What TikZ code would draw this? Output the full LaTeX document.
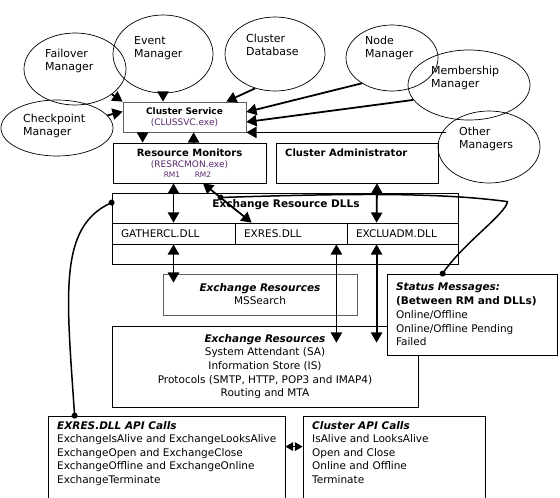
\documentclass[tikz,border=0pt]{standalone}
\usepackage{fontspec}
\setmainfont{DejaVu Sans}
\usetikzlibrary{arrows, calc, positioning, shapes.geometric}
\definecolor{exepurple}{RGB}{90,40,110}
\definecolor{boxgray}{RGB}{95,95,95}

\begin{document}
\begin{tikzpicture}[x=1pt, y=-1pt,
	box/.style={draw, line width=0.8pt, inner sep=0pt},
	cell/.style={box, minimum height=21pt, inner xsep=9pt, align=left},
	mgr/.style={draw, ellipse, line width=0.7pt, inner sep=0pt},
	mgrtext/.style={anchor=north west, align=left, inner sep=0pt, font=\fontsize{11}{13}\selectfont},
	txt/.style={inner sep=0pt, font=\fontsize{10.5}{13.5}\selectfont},
	link/.style={line width=1.8pt, -triangle 60},
	dlink/.style={line width=1.8pt, triangle 60-triangle 60},
	wire/.style={line width=1.5pt}]
	\clip (0,0) rectangle (560,498);

	% managers
	\node [mgr, minimum width=102pt, minimum height=72pt] (fm) at (75,69) {};
	\node [mgr, minimum width=100pt, minimum height=78pt] (em) at (163,54) {};
	\node [mgr, minimum width=100pt, minimum height=74pt] (cdb) at (275,54) {};
	\node [mgr, minimum width=92pt, minimum height=66pt] (nm) at (392,58) {};
	\node [mgr, minimum width=122pt, minimum height=70pt] (mm) at (469,85) {};
	\node [mgr, minimum width=102pt, minimum height=72pt] (om) at (489,147) {};
	\node [mgr, minimum width=112pt, minimum height=56pt] (cp) at (57,128) {};
	\node [mgrtext] (fmt) at (45,49) {Failover\\Manager};
	\node [mgrtext] (emt) at (134,36) {Event\\Manager};
	\node [mgrtext] (cdbt) at (246,34) {Cluster\\Database};
	\node [mgrtext] (nmt) at (365,36) {Node\\Manager};
	\node [mgrtext] (mmt) at (431,66) {Membership\\Manager};
	\node [mgrtext] (omt) at (459,127) {Other\\Managers};
	\node [mgrtext] (cpt) at (23,114) {Checkpoint\\Manager};

	% cluster side
	\node [box, draw=boxgray, minimum width=123pt, minimum height=30pt, align=center,
		font=\fontsize{9}{11}\selectfont] (cs) at (184.5,117)
		{\textbf{Cluster Service}\\\textcolor{exepurple}{(CLUSSVC.exe)}};
	\node [box, minimum width=153pt, minimum height=40pt] (rm) at (189.5,163) {};
	\node [txt, font=\bfseries\fontsize{10}{12}\selectfont] (rmt) at (189.5,153) {Resource Monitors};
	\node [txt, text=exepurple, font=\fontsize{9}{11}\selectfont] (rmx) at (189.5,165) {(RESRCMON.exe)};
	\node [txt, text=exepurple, font=\fontsize{7.5}{9}\selectfont] (rm1) at (172,175) {RM1};
	\node [txt, text=exepurple, font=\fontsize{7.5}{9}\selectfont] (rm2) at (203,175) {RM2};
	\node [box, minimum width=162pt, minimum height=40pt] (ca) at (357,163) {};
	\node [txt, anchor=west, font=\bfseries\fontsize{10}{12}\selectfont] (cat) at (285,153) {Cluster Administrator};

	% exchange resource dlls
	\node [box, minimum width=346pt, minimum height=71pt] (dll) at (285,228.5) {};
	\node [txt, font=\bfseries\fontsize{10.5}{12}\selectfont] (dllt) at (286,205) {Exchange Resource DLLs};
	\node [cell, text width=105pt, font=\fontsize{10.5}{12}\selectfont] (gc) at (173.5,233.5) {GATHERCL.DLL};
	\node [cell, text width=94pt, font=\fontsize{10.5}{12}\selectfont] (ex) at (291,233.5) {EXRES.DLL};
	\node [cell, text width=93pt, font=\fontsize{10.5}{12}\selectfont] (xa) at (402.5,233.5) {EXCLUADM.DLL};

	% resources and messages
	\node [box, draw=boxgray, minimum width=194pt, minimum height=41pt, align=center,
		font=\fontsize{10.5}{13}\selectfont] (ms) at (260,294.5)
		{\textbf{\textit{Exchange Resources}}\\MSSearch};
	\node [box, minimum width=306pt, minimum height=81pt, align=center,
		font=\fontsize{10.5}{13.7}\selectfont] (er) at (265,366.5)
		{\textbf{\textit{Exchange Resources}}\\System Attendant (SA)\\Information Store (IS)\\
		Protocols (SMTP, HTTP, POP3 and IMAP4)\\Routing and MTA};
	\node [box, fill=white, minimum width=170pt, minimum height=81pt, text width=152pt, inner xsep=9pt, align=left,
		font=\fontsize{10.5}{13.7}\selectfont] (sm) at (472,314.5)
		{\textbf{\textit{Status Messages:}}\\\textbf{(Between RM and DLLs)}\\Online/Offline\\
		Online/Offline Pending\\Failed};

	% api calls
	\node [box, minimum width=237pt, minimum height=94pt] (api) at (166.5,463) {};
	\node [box, minimum width=182pt, minimum height=94pt] (cl) at (394,463) {};
	\node [txt, anchor=north west, align=left] (apit) at (57,421)
		{\textbf{\textit{EXRES.DLL API Calls}}\\ExchangeIsAlive and ExchangeLooksAlive\\
		ExchangeOpen and ExchangeClose\\ExchangeOffline and ExchangeOnline\\ExchangeTerminate};
	\node [txt, anchor=north west, align=left] (clt) at (312,421)
		{\textbf{\textit{Cluster API Calls}}\\IsAlive and LooksAlive\\Open and Close\\
		Online and Offline\\Terminate};

	% managers to cluster service
	\draw [link] (fm) -- (cs.north west);
	\draw [link] (cp) -- (cs.175);
	\draw [link] (em.south) -- (em.south |- cs.north);
	\draw [link] (cdb.240) -- ($(cs.north east)+(-20,0)$);
	\draw [link] (nm.220) -- ($(cs.east)+(0,-5)$);
	\draw [link] (mm.195) -- ($(cs.east)+(0,5)$);
	\draw [link] ($(om.west |- cs.south east)+(8,0)$) -- (cs.south east);

	% service and monitors
	\draw [link] ($(cs.south west)+(20,0)$) -- ($(rm.north west)+(30,0)$);
	\draw [link] ($(rm.north west)+(81,0)$) -- ($(cs.south west)+(71,0)$);

	% monitors and admin to dlls
	\draw [dlink] (gc.north) -- (gc.north |- rm.south);
	\draw [dlink] (rm2.south |- rm.south) -- coordinate [pos=0.36] (tap) ($(ex.north west)+(17,0)$);
	\draw [dlink] ($(ca.south)+(20,0)$) -- ($(xa.north west)+(30,0)$);

	% dlls to resources
	\draw [dlink] (gc.south) -- ($(gc.south |- ms.north)+(0,9)$);
	\draw [dlink] ($(ex.south east)+(-11,0)$) -- ($(ex.south east |- er.north)+(-11,17)$);
	\draw [dlink] ($(xa.south west)+(30,0)$) -- ($(xa.south west |- er.north)+(30,17)$);
	\draw [dlink, line width=1.1pt] ($(api.north east)+(0,31)$) -- ($(cl.north west)+(0,31)$);

	% status message wires
	\coordinate (apidot) at ($(api.north west)+(27,0)$);
	\coordinate (dlldot) at ($(dll.north west)+(0,10)$);
	\coordinate (bend) at ($(dll.north east)+(49,9)$);
	\coordinate (smdot) at ($(sm.north west)+(56,0)$);
	\draw [wire] (apidot) .. controls +(-8,-120) and +(-54,24) .. (dlldot);
	\draw [wire] (tap) .. controls +(150,-5) and +(-60,-8) .. (bend)
		.. controls +(-1,12) and +(20,-30) .. (smdot);
	\fill (apidot) circle (3);
	\fill (dlldot) circle (3);
	\fill (tap) circle (3);
	\fill (smdot) circle (3);
\end{tikzpicture}
\end{document}
